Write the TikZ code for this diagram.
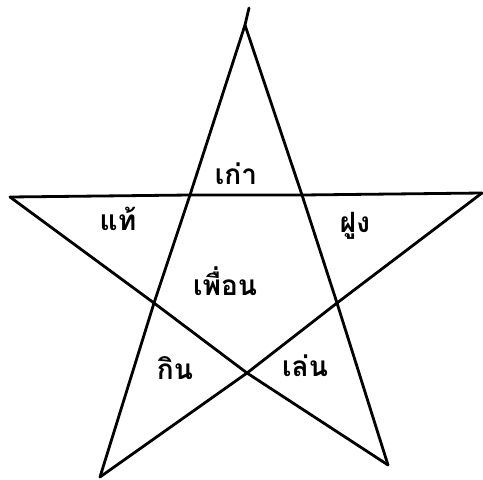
\documentclass[tikz,border=0pt]{standalone}
\usepackage{fontspec}
\newfontfamily\thaifont[Script=Thai]{Loma}
\begin{document}
\begin{tikzpicture}[x=1pt,y=-1pt,
  edge/.style={line width=2.8pt,line join=round,line cap=round},
  word/.style={font=\thaifont\bfseries\fontsize{28}{30}\selectfont,anchor=base,inner sep=0pt}]
\useasboundingbox (0,0) rectangle (483,480);
% vertices and crossings
\coordinate (A) at (245,25);
\coordinate (Aext) at (249,8);
\coordinate (L) at (10,197);
\coordinate (R) at (482,193);
\coordinate (BL) at (100,477);
\coordinate (BR) at (388,465);
\coordinate (P1) at (190,195);
\coordinate (P2) at (302,195);
\coordinate (P3) at (154,303);
\coordinate (P4) at (337,303);
\coordinate (P5) at (247,373);
% star lines
\draw[edge] (Aext) -- (A) -- (P1) -- (P3) -- (BL);
\draw[edge] (A) -- (P2) -- (P4) -- (BR);
\draw[edge] (L) -- (P1) -- (P2) -- (R);
\draw[edge] (L) -- (P3) -- (P5) -- (BR);
\draw[edge] (R) -- (P4) -- (P5) -- (BL);
% labels
\node[word] (kao) at (236,184) {เก่า};
\node[word] (thae) at (118,230) {แท้};
\node[word] (fung) at (355,232) {ฝูง};
\node[word] (puean) at (225,295) {เพื่อน};
\node[word] (kin) at (175,379) {กิน};
\node[word] (len) at (305,376) {เล่น};
\end{tikzpicture}
\end{document}
